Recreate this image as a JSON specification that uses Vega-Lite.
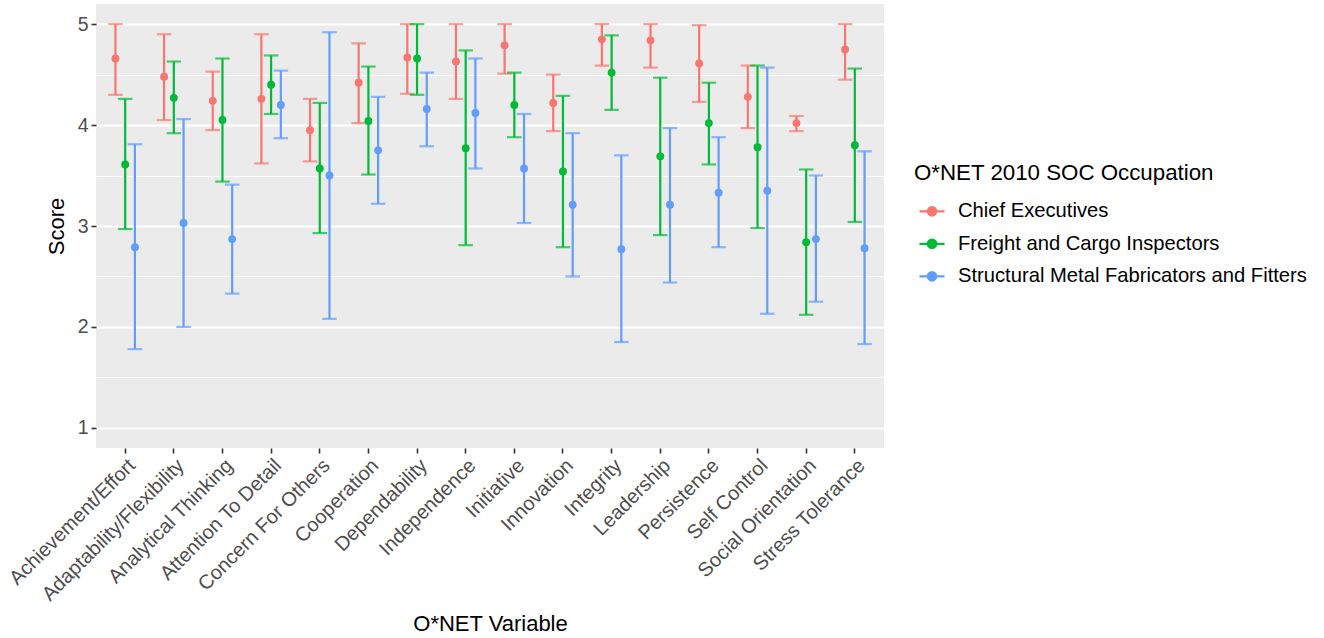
{
  "$schema": "https://vega.github.io/schema/vega-lite/v6.json",
  "autosize": {"type": "none"},
  "padding": {"left": 96, "top": 4, "right": 440, "bottom": 190},
  "width": 788,
  "height": 444,
  "background": "white",
  "data": {
    "values": [
      {"variable": "Achievement/Effort", "occupation": "Chief Executives", "score": 4.66, "lo": 4.30, "hi": 5.00},
      {"variable": "Achievement/Effort", "occupation": "Freight and Cargo Inspectors", "score": 3.61, "lo": 2.97, "hi": 4.26},
      {"variable": "Achievement/Effort", "occupation": "Structural Metal Fabricators and Fitters", "score": 2.79, "lo": 1.78, "hi": 3.81},
      {"variable": "Adaptability/Flexibility", "occupation": "Chief Executives", "score": 4.48, "lo": 4.05, "hi": 4.90},
      {"variable": "Adaptability/Flexibility", "occupation": "Freight and Cargo Inspectors", "score": 4.27, "lo": 3.92, "hi": 4.63},
      {"variable": "Adaptability/Flexibility", "occupation": "Structural Metal Fabricators and Fitters", "score": 3.03, "lo": 2.00, "hi": 4.06},
      {"variable": "Analytical Thinking", "occupation": "Chief Executives", "score": 4.24, "lo": 3.95, "hi": 4.53},
      {"variable": "Analytical Thinking", "occupation": "Freight and Cargo Inspectors", "score": 4.05, "lo": 3.44, "hi": 4.66},
      {"variable": "Analytical Thinking", "occupation": "Structural Metal Fabricators and Fitters", "score": 2.87, "lo": 2.33, "hi": 3.41},
      {"variable": "Attention To Detail", "occupation": "Chief Executives", "score": 4.26, "lo": 3.62, "hi": 4.90},
      {"variable": "Attention To Detail", "occupation": "Freight and Cargo Inspectors", "score": 4.40, "lo": 4.11, "hi": 4.69},
      {"variable": "Attention To Detail", "occupation": "Structural Metal Fabricators and Fitters", "score": 4.20, "lo": 3.87, "hi": 4.54},
      {"variable": "Concern For Others", "occupation": "Chief Executives", "score": 3.95, "lo": 3.64, "hi": 4.26},
      {"variable": "Concern For Others", "occupation": "Freight and Cargo Inspectors", "score": 3.57, "lo": 2.93, "hi": 4.22},
      {"variable": "Concern For Others", "occupation": "Structural Metal Fabricators and Fitters", "score": 3.50, "lo": 2.08, "hi": 4.92},
      {"variable": "Cooperation", "occupation": "Chief Executives", "score": 4.42, "lo": 4.02, "hi": 4.81},
      {"variable": "Cooperation", "occupation": "Freight and Cargo Inspectors", "score": 4.04, "lo": 3.51, "hi": 4.58},
      {"variable": "Cooperation", "occupation": "Structural Metal Fabricators and Fitters", "score": 3.75, "lo": 3.22, "hi": 4.28},
      {"variable": "Dependability", "occupation": "Chief Executives", "score": 4.67, "lo": 4.31, "hi": 5.00},
      {"variable": "Dependability", "occupation": "Freight and Cargo Inspectors", "score": 4.66, "lo": 4.30, "hi": 5.00},
      {"variable": "Dependability", "occupation": "Structural Metal Fabricators and Fitters", "score": 4.16, "lo": 3.79, "hi": 4.52},
      {"variable": "Independence", "occupation": "Chief Executives", "score": 4.63, "lo": 4.26, "hi": 5.00},
      {"variable": "Independence", "occupation": "Freight and Cargo Inspectors", "score": 3.77, "lo": 2.81, "hi": 4.74},
      {"variable": "Independence", "occupation": "Structural Metal Fabricators and Fitters", "score": 4.12, "lo": 3.57, "hi": 4.66},
      {"variable": "Initiative", "occupation": "Chief Executives", "score": 4.79, "lo": 4.51, "hi": 5.00},
      {"variable": "Initiative", "occupation": "Freight and Cargo Inspectors", "score": 4.20, "lo": 3.88, "hi": 4.52},
      {"variable": "Initiative", "occupation": "Structural Metal Fabricators and Fitters", "score": 3.57, "lo": 3.03, "hi": 4.11},
      {"variable": "Innovation", "occupation": "Chief Executives", "score": 4.22, "lo": 3.94, "hi": 4.50},
      {"variable": "Innovation", "occupation": "Freight and Cargo Inspectors", "score": 3.54, "lo": 2.79, "hi": 4.29},
      {"variable": "Innovation", "occupation": "Structural Metal Fabricators and Fitters", "score": 3.21, "lo": 2.50, "hi": 3.92},
      {"variable": "Integrity", "occupation": "Chief Executives", "score": 4.85, "lo": 4.59, "hi": 5.00},
      {"variable": "Integrity", "occupation": "Freight and Cargo Inspectors", "score": 4.52, "lo": 4.15, "hi": 4.89},
      {"variable": "Integrity", "occupation": "Structural Metal Fabricators and Fitters", "score": 2.77, "lo": 1.85, "hi": 3.70},
      {"variable": "Leadership", "occupation": "Chief Executives", "score": 4.84, "lo": 4.57, "hi": 5.00},
      {"variable": "Leadership", "occupation": "Freight and Cargo Inspectors", "score": 3.69, "lo": 2.91, "hi": 4.47},
      {"variable": "Leadership", "occupation": "Structural Metal Fabricators and Fitters", "score": 3.21, "lo": 2.44, "hi": 3.97},
      {"variable": "Persistence", "occupation": "Chief Executives", "score": 4.61, "lo": 4.23, "hi": 4.99},
      {"variable": "Persistence", "occupation": "Freight and Cargo Inspectors", "score": 4.02, "lo": 3.61, "hi": 4.42},
      {"variable": "Persistence", "occupation": "Structural Metal Fabricators and Fitters", "score": 3.33, "lo": 2.79, "hi": 3.88},
      {"variable": "Self Control", "occupation": "Chief Executives", "score": 4.28, "lo": 3.97, "hi": 4.59},
      {"variable": "Self Control", "occupation": "Freight and Cargo Inspectors", "score": 3.78, "lo": 2.98, "hi": 4.59},
      {"variable": "Self Control", "occupation": "Structural Metal Fabricators and Fitters", "score": 3.35, "lo": 2.13, "hi": 4.57},
      {"variable": "Social Orientation", "occupation": "Chief Executives", "score": 4.02, "lo": 3.94, "hi": 4.09},
      {"variable": "Social Orientation", "occupation": "Freight and Cargo Inspectors", "score": 2.84, "lo": 2.12, "hi": 3.56},
      {"variable": "Social Orientation", "occupation": "Structural Metal Fabricators and Fitters", "score": 2.87, "lo": 2.25, "hi": 3.50},
      {"variable": "Stress Tolerance", "occupation": "Chief Executives", "score": 4.75, "lo": 4.45, "hi": 5.00},
      {"variable": "Stress Tolerance", "occupation": "Freight and Cargo Inspectors", "score": 3.80, "lo": 3.04, "hi": 4.56},
      {"variable": "Stress Tolerance", "occupation": "Structural Metal Fabricators and Fitters", "score": 2.78, "lo": 1.83, "hi": 3.74}
    ]
  },
  "encoding": {
    "x": {
      "field": "variable",
      "type": "nominal",
      "sort": null,
      "scale": {"type": "band", "paddingInner": 0, "paddingOuter": 0.1},
      "axis": {
        "title": "O*NET Variable",
        "labelAngle": -45,
        "labelAlign": "right",
        "labelBaseline": "top",
        "labelPadding": 2,
        "labelFontSize": 20,
        "labelLimit": 0,
        "bandPosition": 0.5,
        "titlePadding": 9
      }
    },
    "xOffset": {
      "field": "occupation",
      "type": "nominal",
      "scale": {"type": "band", "paddingInner": 0, "paddingOuter": 1.5}
    },
    "color": {
      "field": "occupation",
      "type": "nominal",
      "title": "O*NET 2010 SOC Occupation",
      "scale": {
        "domain": ["Chief Executives", "Freight and Cargo Inspectors", "Structural Metal Fabricators and Fitters"],
        "range": ["#F8766D", "#00BA38", "#619CFF"]
      }
    }
  },
  "layer": [
    {
      "mark": {"type": "rule", "strokeWidth": 2.2},
      "encoding": {
        "y": {
          "field": "lo",
          "type": "quantitative",
          "scale": {"domain": [0.8, 5.2], "nice": false, "zero": false},
          "axis": {
            "orient": "right",
            "values": [1.5, 2.5, 3.5, 4.5],
            "grid": true,
            "gridWidth": 1.1,
            "labels": false,
            "ticks": false,
            "domain": false,
            "title": null
          }
        },
        "y2": {"field": "hi"}
      }
    },
    {
      "mark": {"type": "tick", "orient": "horizontal", "size": 14.5, "thickness": 2.2},
      "encoding": {
        "y": {"field": "lo", "type": "quantitative", "axis": null}
      }
    },
    {
      "mark": {"type": "tick", "orient": "horizontal", "size": 14.5, "thickness": 2.2},
      "encoding": {
        "y": {"field": "hi", "type": "quantitative", "axis": null}
      }
    },
    {
      "mark": {"type": "point", "filled": true, "opacity": 1, "size": 62},
      "encoding": {
        "y": {
          "field": "score",
          "type": "quantitative",
          "axis": {
            "title": "Score",
            "values": [1, 2, 3, 4, 5],
            "format": "d",
            "grid": true,
            "labelFontSize": 19.5,
            "labelPadding": 3,
            "titlePadding": 9
          }
        }
      }
    }
  ],
  "resolve": {"axis": {"y": "independent"}},
  "config": {
    "font": "Liberation Sans",
    "view": {"fill": "#EBEBEB", "stroke": null},
    "axis": {
      "domain": false,
      "tickColor": "#333333",
      "tickSize": 5,
      "tickWidth": 1.6,
      "labelColor": "#4D4D4D",
      "labelFont": "Liberation Sans",
      "labelFontSize": 19.5,
      "titleFont": "Liberation Sans",
      "titleFontSize": 22,
      "titleFontWeight": "normal",
      "titleColor": "#000000",
      "gridColor": "#FFFFFF",
      "gridWidth": 2.2,
      "gridOpacity": 1
    },
    "legend": {
      "orient": "none",
      "legendX": 818,
      "legendY": 158,
      "padding": 0,
      "titleFont": "Liberation Sans",
      "titleFontSize": 22.3,
      "titleFontWeight": "normal",
      "titleColor": "#000000",
      "titlePadding": 13,
      "titleLimit": 0,
      "labelFont": "Liberation Sans",
      "labelFontSize": 20.2,
      "labelColor": "#000000",
      "labelLimit": 0,
      "labelOffset": 12,
      "symbolType": "M-1,0L1,0M-0.34,0A0.34,0.34,0,1,0,0.34,0A0.34,0.34,0,1,0,-0.34,0Z",
      "symbolSize": 625,
      "symbolOffset": 4,
      "symbolOpacity": 1,
      "symbolStrokeWidth": 2.2,
      "rowPadding": 7.5
    }
  }
}
